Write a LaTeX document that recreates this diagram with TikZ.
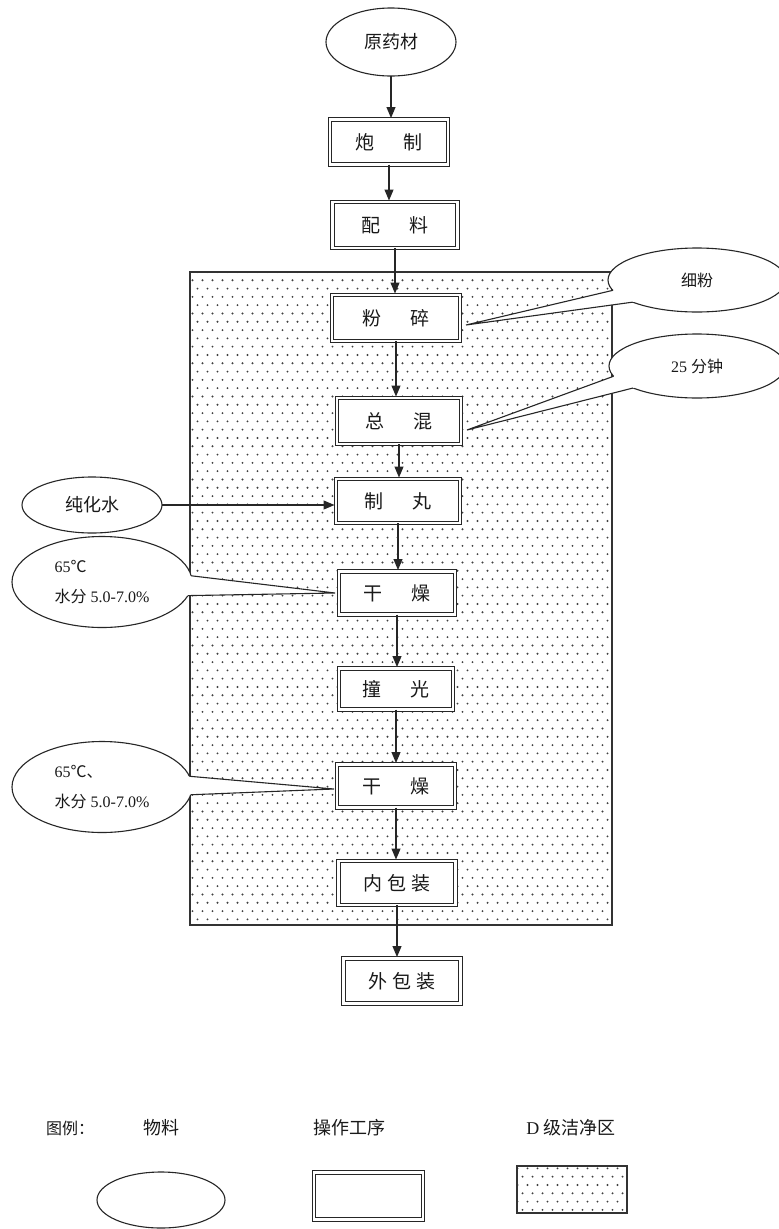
\documentclass[tikz,border=0pt]{standalone}
\usepackage{fontspec}
\setmainfont{Liberation Serif}
\newfontfamily\cjk{Noto Sans CJK SC}
\usetikzlibrary{arrows.meta,shapes.geometric,patterns,calc}

\pgfdeclarepatternformonly{regiondots}{\pgfqpoint{-1pt}{-1pt}}{\pgfqpoint{11pt}{17.6pt}}{\pgfqpoint{10pt}{16.6pt}}{%
  \pgfpathcircle{\pgfqpoint{2.5pt}{2.5pt}}{1.05pt}%
  \pgfpathcircle{\pgfqpoint{7.5pt}{10.8pt}}{1.05pt}%
  \pgfusepath{fill}}

\begin{document}
\begin{tikzpicture}[x=1pt,y=-1pt,
  every node/.style={inner sep=0pt, outer sep=0pt, text=black!90},
  ln/.style={draw=black!85, line width=1.1pt},
  proc/.style={draw=black!85, double=white, double distance=2.4pt, line width=1.1pt, fill=white,
               font=\cjk\fontsize{19}{21}\selectfont},
  mat/.style={ln, ellipse, fill=white, font=\cjk\fontsize{18}{20}\selectfont},
  note/.style={ln, ellipse, fill=white, font=\fontsize{16}{30}\selectfont, align=left},
  arr/.style={draw=black!85, line width=1.2pt, -{Triangle[length=11pt,width=9pt]}, shorten >=1.5pt},
  zone/.style={draw=black!80, line width=1.3pt, pattern=regiondots, pattern color=black!75},
  lgtext/.style={font=\cjk\fontsize{18}{20}\selectfont}
]
\useasboundingbox[fill=white] (0,0) rectangle (779,1229);

% clean zone
\node[zone, anchor=north west, minimum width=422pt, minimum height=653pt] (zone) at (190,272) {};

% materials
\node[mat, minimum width=130pt, minimum height=68pt] (yuan) at (391,42) {原药材};
\node[mat, minimum width=140pt, minimum height=56pt] (chs) at (92,505) {纯化水};

% process boxes
\node[proc, minimum width=118pt, minimum height=45pt] (pz) at (389,142) {炮\hspace{30pt}制};
\node[proc, minimum width=125pt, minimum height=46pt] (pl) at (395,225) {配\hspace{30pt}料};
\node[proc, minimum width=128pt, minimum height=46pt] (fs) at (396,318) {粉\hspace{29pt}碎};
\node[proc, minimum width=124pt, minimum height=46pt] (zh) at (399,421) {总\hspace{29pt}混};
\node[proc, minimum width=124pt, minimum height=44pt] (zw) at (398,501) {制\hspace{29pt}丸};
\node[proc, minimum width=116pt, minimum height=43pt] (gz1) at (397,593) {干\hspace{29pt}燥};
\node[proc, minimum width=114pt, minimum height=41pt] (zg) at (396,689) {撞\hspace{29pt}光};
\node[proc, minimum width=118pt, minimum height=43pt] (gz2) at (396,786) {干\hspace{29pt}燥};
\node[proc, minimum width=117pt, minimum height=44pt] (nb) at (397,883) {内\hspace{5pt}包\hspace{5pt}装};
\node[proc, minimum width=117pt, minimum height=45pt] (wb) at (402,981) {外\hspace{5pt}包\hspace{5pt}装};

% main flow
\draw[arr] (yuan.south) -- (yuan.south |- pz.north);
\draw[arr] (pz.south) -- (pz.south |- pl.north);
\draw[arr] (pl.south) -- (pl.south |- fs.north);
\draw[arr] (fs.south) -- (fs.south |- zh.north);
\draw[arr] (zh.south) -- (zh.south |- zw.north);
\draw[arr] (zw.south) -- (zw.south |- gz1.north);
\draw[arr] (gz1.south) -- (gz1.south |- zg.north);
\draw[arr] (zg.south) -- (zg.south |- gz2.north);
\draw[arr] (gz2.south) -- (gz2.south |- nb.north);
\draw[arr] (nb.south) -- (nb.south |- wb.north);
\draw[arr] (chs.east) -- (chs.east -| zw.west);

% callouts (right)
\node[note, minimum width=178pt, minimum height=64pt, font=\cjk\fontsize{16}{18}\selectfont] (xf) at (697,280) {细粉};
\coordinate (xft) at ([xshift=6pt,yshift=-7pt]fs.east);
\fill[white] (xft) -- (xf.187) -- ($(xf.187)!0.15!(xf.center)$) -- ($(xf.199)!0.15!(xf.center)$) -- (xf.199) -- cycle;
\draw[ln] (xf.187) -- (xft) -- (xf.199);

\node[note, minimum width=176pt, minimum height=64pt] (mn) at (697,366) {25 {\cjk 分钟}};
\coordinate (mnt) at ([xshift=6pt,yshift=-9pt]zh.east);
\fill[white] (mnt) -- (mn.187) -- ($(mn.187)!0.15!(mn.center)$) -- ($(mn.199)!0.15!(mn.center)$) -- (mn.199) -- cycle;
\draw[ln] (mn.187) -- (mnt) -- (mn.199);

% callouts (left)
\node[note, minimum width=180pt, minimum height=91pt] (ea) at (102,582) {65{\cjk ℃}\\{\cjk 水分} 5.0-7.0\%};
\coordinate (eat) at ([xshift=-4pt]gz1.west);
\fill[white] (eat) -- (ea.4) -- ($(ea.4)!0.15!(ea.center)$) -- ($(ea.-9)!0.15!(ea.center)$) -- (ea.-9) -- cycle;
\draw[ln] (ea.4) -- (eat) -- (ea.-9);

\node[note, minimum width=180pt, minimum height=91pt] (eb) at (102,787) {65{\cjk ℃、}\\{\cjk 水分} 5.0-7.0\%};
\coordinate (ebt) at ([xshift=-3pt,yshift=-3pt]gz2.west);
\fill[white] (ebt) -- (eb.7) -- ($(eb.7)!0.15!(eb.center)$) -- ($(eb.-5)!0.15!(eb.center)$) -- (eb.-5) -- cycle;
\draw[ln] (eb.7) -- (ebt) -- (eb.-5);

% legend
\node[font=\cjk\fontsize{16}{18}\selectfont] (lg) at (70,1128) {图例：};
\node[lgtext] (lgm) at (161,1128) {物料};
\node[lgtext] (lgp) at (349,1128) {操作工序};
\node[font=\fontsize{18}{20}\selectfont] (lgz) at (571,1128) {D {\cjk 级洁净区}};
\node[mat, minimum width=128pt, minimum height=56pt] (lge) at (161,1200) {};
\node[proc, minimum width=109pt, minimum height=47pt] (lgb) at (368.5,1196) {};
\node[zone, anchor=north west, minimum width=110pt, minimum height=47pt] (lgr) at (517,1166) {};
\end{tikzpicture}
\end{document}
